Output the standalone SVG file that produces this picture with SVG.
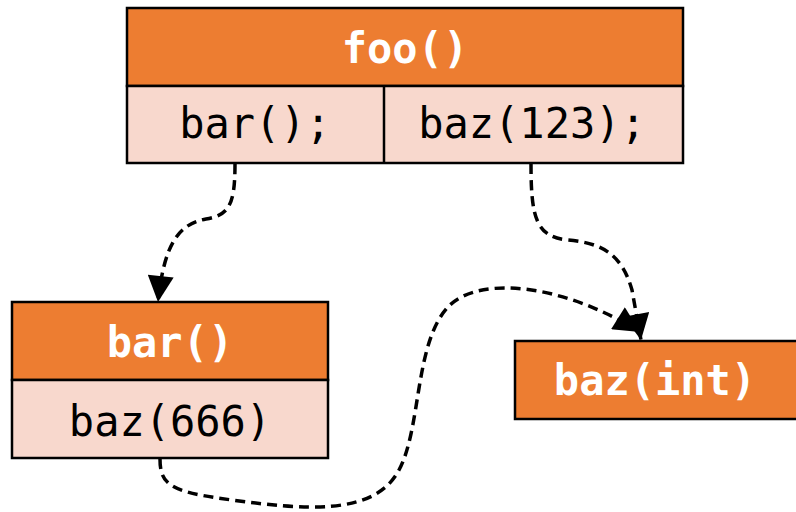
<svg xmlns="http://www.w3.org/2000/svg" width="796" height="512" viewBox="0 0 796 512">
  <defs>
    <marker id="arrow" viewBox="0 0 10 10" refX="10" refY="5" markerWidth="28" markerHeight="26" markerUnits="userSpaceOnUse" orient="auto">
      <path d="M0,0 L10,5 L0,10 z" fill="#000"/>
    </marker>
    <style>
      .head { fill: #ED7D31; stroke: #000; stroke-width: 2.5; }
      .body { fill: #F8D8CD; stroke: #000; stroke-width: 2.5; }
      .sep { stroke: #000; stroke-width: 2.5; }
      .title { font-family: "DejaVu Sans Mono", "Liberation Mono", monospace; font-size: 42px; font-weight: bold; fill: #fff; text-anchor: middle; }
      .code { font-family: "DejaVu Sans Mono", "Liberation Mono", monospace; font-size: 42px; fill: #000; text-anchor: middle; }
      .edge { fill: none; stroke: #000; stroke-width: 3.5; stroke-dasharray: 10 6; marker-end: url(#arrow); }
    </style>
  </defs>

  <g id="node-foo">
    <rect class="head" x="127" y="8" width="556" height="78"/>
    <rect class="body" x="127" y="86" width="556" height="77"/>
    <line class="sep" x1="384" y1="86" x2="384" y2="163"/>
    <text class="title" x="405" y="63">foo()</text>
    <text class="code" x="255" y="138">bar();</text>
    <text class="code" x="532" y="138">baz(123);</text>
  </g>

  <g id="node-bar">
    <rect class="head" x="12" y="302" width="316" height="78"/>
    <rect class="body" x="12" y="380" width="316" height="78"/>
    <text class="title" x="170" y="357">bar()</text>
    <text class="code" x="170" y="436">baz(666)</text>
  </g>

  <g id="node-baz">
    <rect class="head" x="515" y="341" width="283" height="78"/>
    <text class="title" x="655" y="395">baz(int)</text>
  </g>

  <g id="edges">
    <path class="edge" d="M235,164 C235,205 229,215 206,219 C178,224 164,245 158,302"/>
    <path class="edge" d="M531,164 C531,218 536,237 568,240 C603,243 622,255 632,290 L641,340"/>
    <path class="edge" d="M160,459 C160,486 172,492 232,500 C305,510 375,516 399,470 C422,427 414,340 450,305 C482,275 565,285 640,332"/>
  </g>
</svg>
